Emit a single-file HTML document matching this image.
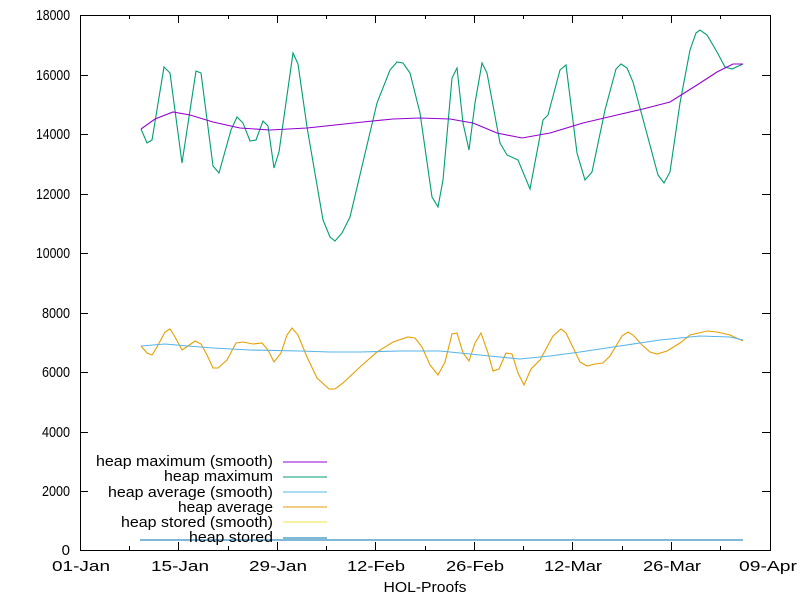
<!DOCTYPE html>
<html><head><meta charset="utf-8"><style>body{margin:0;background:#fff}svg{display:block}text{font-family:"Liberation Sans",sans-serif;font-size:15px;fill:#000}</style></head><body>
<svg width="800" height="600" viewBox="0 0 800 600">
<g stroke="#000" stroke-width="1" fill="none">
<rect x="80.5" y="15.5" width="690" height="535"/>
<path d="M80 491.5h8M770 491.5h-8M80 432.5h8M770 432.5h-8M80 372.5h8M770 372.5h-8M80 313.5h8M770 313.5h-8M80 253.5h8M770 253.5h-8M80 194.5h8M770 194.5h-8M80 134.5h8M770 134.5h-8M80 75.5h8M770 75.5h-8"/>
<path d="M178.5 550v-8M178.5 15v8M277.5 550v-8M277.5 15v8M375.5 550v-8M375.5 15v8M474.5 550v-8M474.5 15v8M572.5 550v-8M572.5 15v8M671.5 550v-8M671.5 15v8M129.5 550v-4M129.5 15v4M228.5 550v-4M228.5 15v4M326.5 550v-4M326.5 15v4M425.5 550v-4M425.5 15v4M523.5 550v-4M523.5 15v4M622.5 550v-4M622.5 15v4M720.5 550v-4M720.5 15v4"/>
</g>
<g text-anchor="end">
<text x="70" y="555">0</text><text x="70" y="496" textLength="28" lengthAdjust="spacingAndGlyphs">2000</text><text x="70" y="437" textLength="28" lengthAdjust="spacingAndGlyphs">4000</text><text x="70" y="377" textLength="28" lengthAdjust="spacingAndGlyphs">6000</text><text x="70" y="318" textLength="28" lengthAdjust="spacingAndGlyphs">8000</text><text x="70" y="258" textLength="34" lengthAdjust="spacingAndGlyphs">10000</text><text x="70" y="199" textLength="34" lengthAdjust="spacingAndGlyphs">12000</text><text x="70" y="139" textLength="34" lengthAdjust="spacingAndGlyphs">14000</text><text x="70" y="80" textLength="34" lengthAdjust="spacingAndGlyphs">16000</text><text x="70" y="20" textLength="34" lengthAdjust="spacingAndGlyphs">18000</text>
</g>
<g text-anchor="middle">
<text x="81" y="571" textLength="58" lengthAdjust="spacingAndGlyphs">01-Jan</text><text x="180" y="571" textLength="58" lengthAdjust="spacingAndGlyphs">15-Jan</text><text x="278" y="571" textLength="58" lengthAdjust="spacingAndGlyphs">29-Jan</text><text x="376" y="571" textLength="58" lengthAdjust="spacingAndGlyphs">12-Feb</text><text x="475" y="571" textLength="58" lengthAdjust="spacingAndGlyphs">26-Feb</text><text x="573" y="571" textLength="58" lengthAdjust="spacingAndGlyphs">12-Mar</text><text x="672" y="571" textLength="58" lengthAdjust="spacingAndGlyphs">26-Mar</text><text x="768" y="571" textLength="58" lengthAdjust="spacingAndGlyphs">09-Apr</text>
<text x="425" y="592" textLength="83" lengthAdjust="spacingAndGlyphs">HOL-Proofs</text>
</g>
<g fill="none" stroke-width="1.1">
<polyline stroke="#009e73" points="141,129 147,143 152,140 164,67 170,73 182,163 196,71 201,73 213,166 219,173 231,130 237,117 243,123 250,141 256,140 263,121 268,126 274,168 279,152 293,53 298,64 307,127 323,220 330,237 335,241 342,233 350,217 377,103 390,70 397,62 403,63 410,73 420,113 432,197 438,207 443,180 452,78 457,68 463,123 469,150 475,103 482,63 487,73 500,143 507,155 518,160 530,189 543,120 548,115 560,70 566,65 577,153 585,180 592,172 605,110 616,69 621,64 627,68 633,82 658,175 664,183 670,172 680,103 690,50 696,33 700,30 707,35 717,52 725,67 732,69 743,64"/>
<polyline stroke="#9400d3" points="141,129 155,119 173,112 190,115 213,122 240,128 270,130 307,128 363,122 393,119 420,118 450,119 473,123 497,133 522,138 550,133 583,123 617,115 643,109 670,102 697,85 717,72 733,64 743,64"/>
<polyline stroke="#e69f00" points="141,346 147,353 152,355 157,347 165,332 170,329 175,337 182,350 188,346 195,341 201,344 207,355 213,368 218,368 227,360 236,343 243,342 253,344 262,343 268,350 274,362 281,353 287,335 292,328 298,335 307,357 317,378 329,389 335,389 343,383 360,367 377,352 393,342 408,337 415,338 422,347 430,365 438,375 445,362 452,334 457,333 463,353 469,361 475,343 481,333 488,353 493,371 499,369 506,353 512,354 518,373 524,385 531,369 540,360 553,336 561,329 566,333 580,362 587,366 595,364 603,363 610,356 622,336 628,332 633,335 642,345 650,352 657,354 667,351 680,343 690,335 707,331 717,332 730,335 743,341"/>
<polyline stroke="#56b4e9" points="141,346 165,344 188,346 213,348 250,350 300,351 330,352 360,352 400,351 440,351 490,356 520,359 550,356 580,352 620,346 660,340 700,336 730,337 743,340"/>
<polyline stroke="#0072b2" points="140,540 743,540"/>
</g>
<g text-anchor="end">
<text x="273" y="466" textLength="177" lengthAdjust="spacingAndGlyphs">heap maximum (smooth)</text>
<text x="273" y="481" textLength="109" lengthAdjust="spacingAndGlyphs">heap maximum</text>
<text x="273" y="497" textLength="165" lengthAdjust="spacingAndGlyphs">heap average (smooth)</text>
<text x="273" y="512" textLength="95" lengthAdjust="spacingAndGlyphs">heap average</text>
<text x="273" y="527" textLength="152" lengthAdjust="spacingAndGlyphs">heap stored (smooth)</text>
<text x="273" y="542" textLength="84" lengthAdjust="spacingAndGlyphs">heap stored</text>
</g>
<g stroke-width="1.1">
<line x1="283" x2="327" y1="462" y2="462" stroke="#9400d3"/>
<line x1="283" x2="327" y1="477" y2="477" stroke="#009e73"/>
<line x1="283" x2="327" y1="492" y2="492" stroke="#56b4e9"/>
<line x1="283" x2="327" y1="507" y2="507" stroke="#e69f00"/>
<line x1="283" x2="327" y1="522" y2="522" stroke="#f0e442"/>
<line x1="283" x2="327" y1="538" y2="538" stroke="#0072b2"/>
</g>
</svg>
</body></html>
